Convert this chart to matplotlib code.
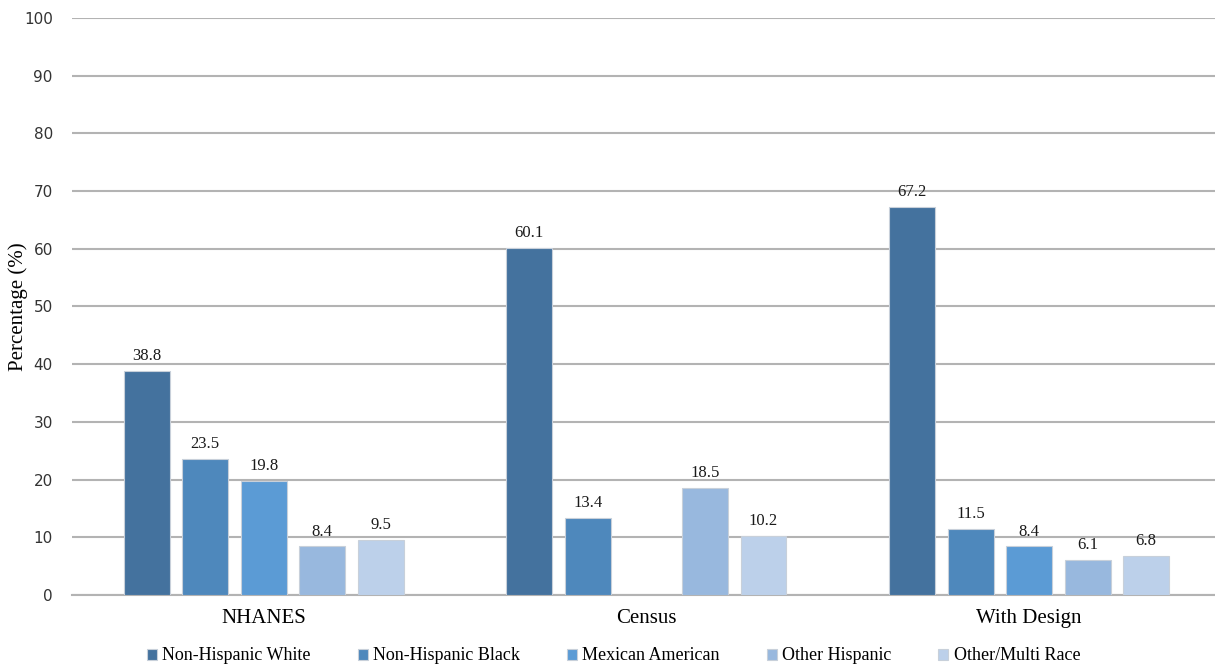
import numpy as np
import matplotlib.pyplot as plt

groups = ["NHANES", "Census", "With Design"]
series = ["Non-Hispanic White", "Non-Hispanic Black", "Mexican American",
          "Other Hispanic", "Other/Multi Race"]
values = [
    [38.8, 60.1, 67.2],
    [23.5, 13.4, 11.5],
    [19.8, np.nan, 8.4],
    [8.4, 18.5, 6.1],
    [9.5, 10.2, 6.8],
]
colors = ["#44729E", "#4E88BC", "#5B9BD5", "#98B8DE", "#BCD0EA"]

serif = ["Liberation Serif", "DejaVu Serif"]

fig = plt.figure(figsize=(12.15, 6.67), dpi=100)
ax = fig.add_axes([0.0595, 0.108, 0.945, 0.865])

x = np.arange(len(groups))
step = 0.153
width = 0.12
handles = []
for i, (name, vals) in enumerate(zip(series, values)):
    pos = x + (i - 2) * step
    bars = ax.bar(pos, vals, width, color=colors[i], edgecolor="#c8d0da",
                  linewidth=0.8, label=name, zorder=3)
    handles.append(bars)
    for b, v in zip(bars, vals):
        if np.isnan(v):
            continue
        ax.text(b.get_x() + b.get_width() / 2, v + 1.2, f"{v:.1f}",
                ha="center", va="bottom", fontsize=12, family=serif, color="#1a1a1a")

ax.set_xlim(-0.5, 2.5)
ax.set_ylim(0, 100)
ax.set_yticks(range(0, 101, 10))
ax.yaxis.grid(True, color="#b3b3b3", linewidth=1.5, zorder=0)
ax.set_axisbelow(True)
for s in ["top", "right", "left"]:
    ax.spines[s].set_visible(False)
ax.spines["bottom"].set_color("#b3b3b3")
ax.spines["bottom"].set_linewidth(1.5)
ax.tick_params(axis="y", length=0, pad=14, labelsize=11, labelcolor="#333333")
ax.tick_params(axis="x", length=0, pad=10)
ax.set_xticks(x)
ax.set_xticklabels(groups, fontsize=15, family=serif)
fig.text(0.015, 0.108 + 0.865 * 0.5, "Percentage (%)", rotation=90, fontsize=15,
         family=serif, ha="center", va="center")

fig.legend(handles=handles, loc="center", bbox_to_anchor=(0.505, 0.0165), ncol=5,
           frameon=False, prop={"family": serif, "size": 13}, handlelength=0.55,
           handleheight=0.55, handletextpad=0.3, columnspacing=2.6,
           borderpad=0, borderaxespad=0)

fig.savefig("out.png", dpi=100)
